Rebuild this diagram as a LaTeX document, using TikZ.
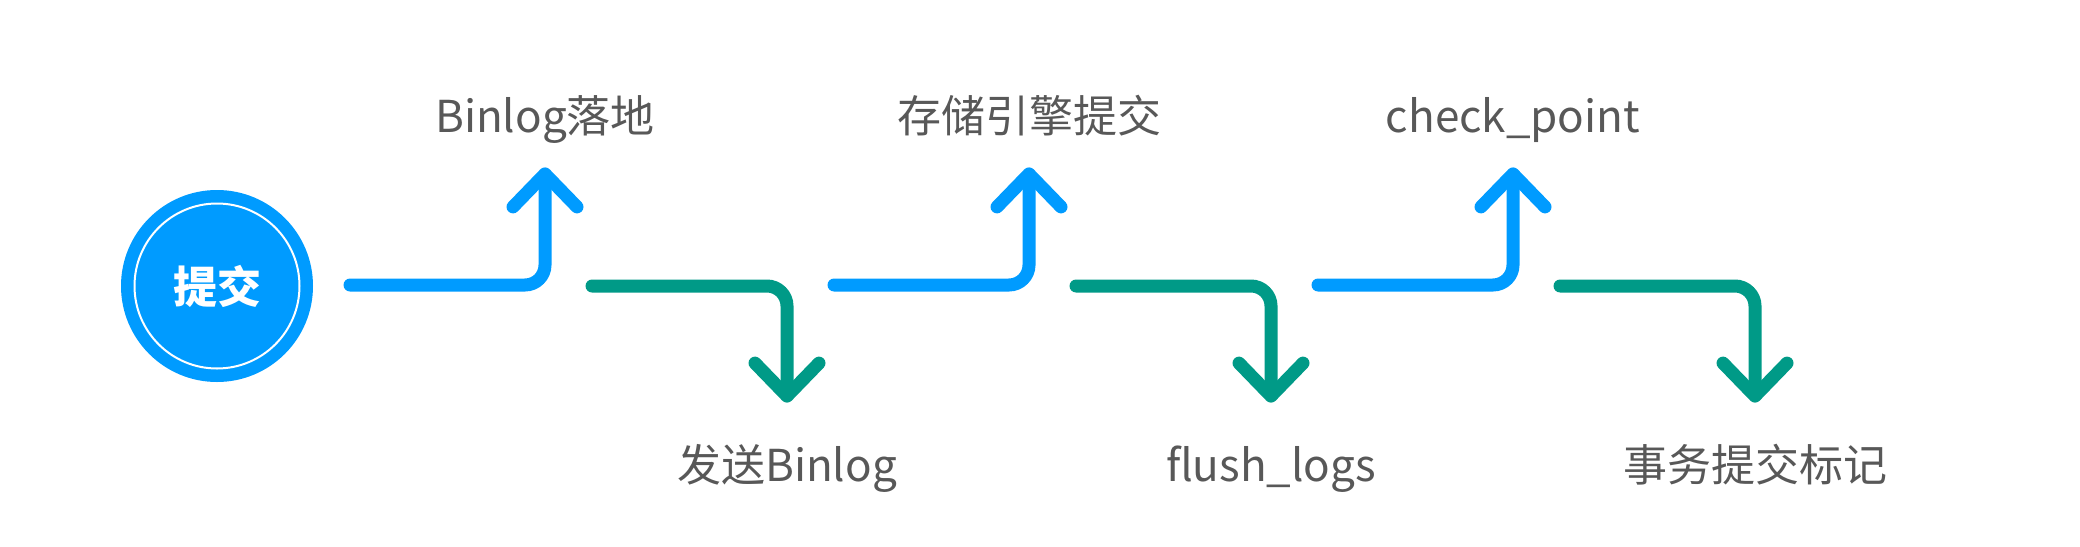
\documentclass[tikz,border=0pt]{standalone}
\usepackage{fontspec}
\setmainfont{Noto Sans CJK SC}
\usetikzlibrary{arrows.meta,positioning}
\definecolor{flowblue}{RGB}{0,155,255}
\definecolor{flowgreen}{RGB}{0,154,135}
\definecolor{textgray}{RGB}{88,88,88}
\tikzset{
    % start node and the two kinds of step arrows
    startcircle/.style={
        circle, fill=flowblue, minimum size=96pt, inner sep=0pt,
        text=white, font=\fontsize{22pt}{26pt}\selectfont\bfseries,
        path picture={\draw[white, line width=1pt]
            (path picture bounding box.center) circle (41.25pt);}
    },
    steparrow/.style={
        line width=6.5pt, line cap=round, rounded corners=10pt,
        -{Straight Barb[round, length=16.5pt, width=32pt]}
    },
    uparrow/.style={steparrow, color=flowblue, shorten >=17.5pt},
    downarrow/.style={steparrow, color=flowgreen, shorten >=23pt},
    stepnote/.style={
        inner sep=0pt, text height=16pt, text depth=0pt,
        font=\fontsize{22pt}{26pt}\selectfont, text=textgray
    }
}
\begin{document}
\begin{tikzpicture}[x=0.5pt, y=-0.5pt]
\useasboundingbox (0,0) rectangle (2080,546);

\node[startcircle] (commit) at (217,286) {提交};

% labels above and below
\node[stepnote] (binlog) at (545,116) {Binlog落地};
\node[stepnote] (send) at (787,465) {发送Binlog};
\node[stepnote] (engine) at (1029,116) {存储引擎提交};
\node[stepnote] (flush) at (1271,465) {flush\_logs};
\node[stepnote] (check) at (1513,116) {check\_point};
\node[stepnote] (mark) at (1755,465) {事务提交标记};

% arrow starts
\coordinate (s1) at (350,285);
\coordinate (s2) at (592,286);
\coordinate (s3) at (834,285);
\coordinate (s4) at (1076,286);
\coordinate (s5) at (1318,285);
\coordinate (s6) at (1560,286);

\draw[uparrow] (s1) -| (binlog);
\draw[downarrow] (s2) -| (send);
\draw[uparrow] (s3) -| (engine);
\draw[downarrow] (s4) -| (flush);
\draw[uparrow] (s5) -| (check);
\draw[downarrow] (s6) -| (mark);

\end{tikzpicture}
\end{document}
